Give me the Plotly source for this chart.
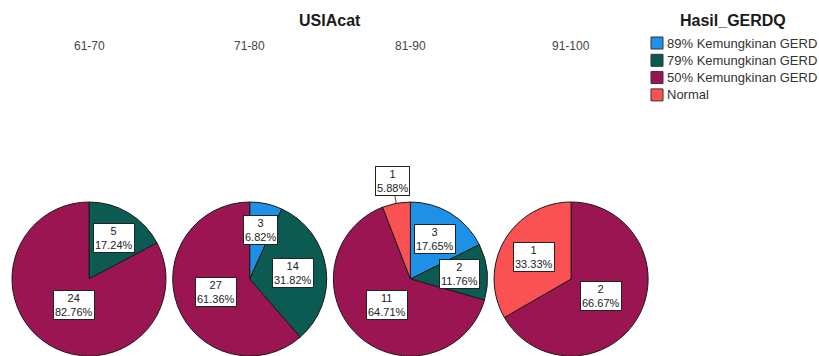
import math
import plotly.graph_objects as go

# ---------------- data ----------------
age_groups = ["61-70", "71-80", "81-90", "91-100"]
categories = ["89% Kemungkinan GERD", "79% Kemungkinan GERD", "50% Kemungkinan GERD", "Normal"]
counts_89 = [0, 3, 3, 0]
counts_79 = [5, 14, 2, 0]
counts_50 = [24, 27, 11, 2]
counts_normal = [0, 0, 1, 1]
panel_title = "USIAcat"
legend_title = "Hasil_GERDQ"

# ---------------- style / layout ----------------
W, H = 819, 356
COLORS = ["#1E90E6", "#0B5B53", "#9B1552", "#FA5252"]
FONT = "Liberation Sans, Arial, sans-serif"
PIE_D = 154          # pie diameter in px
PIE_FIRST_CX = 89    # px centre of first pie
PIE_STEP = 160.7     # px between pie centres
OUTSIDE_FRAC = 0.06  # slices smaller than this get an outside label

series = [counts_89, counts_79, counts_50, counts_normal]

fig = go.Figure()
annotations = []
shapes = []

centers = []
for i, grp in enumerate(age_groups):
    vals = [s[i] for s in series]
    idx = [k for k, v in enumerate(vals) if v > 0]
    cx = PIE_FIRST_CX + i * PIE_STEP
    x0, x1 = cx - PIE_D / 2, cx + PIE_D / 2
    cy = H - PIE_D / 2
    R = PIE_D / 2
    centers.append(cx)
    fig.add_trace(go.Pie(
        labels=[categories[k] for k in idx],
        values=[vals[k] for k in idx],
        marker=dict(colors=[COLORS[k] for k in idx], line=dict(color="#1a1a1a", width=1)),
        domain=dict(x=[x0 / W, x1 / W], y=[0, PIE_D / H]),
        sort=False, direction="clockwise", rotation=0,
        textinfo="none", showlegend=False,
        hovertemplate="%{label}<br>%{value} (%{percent})<extra>" + grp + "</extra>",
    ))

    total = sum(vals)
    cum = 0.0
    for k in idx:
        frac = vals[k] / total
        theta = 2 * math.pi * (cum + frac / 2)
        cum += frac
        txt = f"{vals[k]}<br>{frac * 100:.2f}%"
        box = dict(
            text=txt, xref="paper", yref="paper", align="center",
            xanchor="center", yanchor="middle",
            bgcolor="white", bordercolor="#222", borderwidth=1, borderpad=1,
            font=dict(family=FONT, size=11, color="#222"),
        )
        if frac < OUTSIDE_FRAC:
            ex = cx + R * math.sin(theta)
            ey = cy - R * math.cos(theta)
            d = 0.3 * R
            box.update(x=ex / W, y=1 - ey / H, showarrow=True, arrowhead=0,
                       arrowwidth=1, arrowcolor="#444", standoff=0,
                       ax=d * math.sin(theta), ay=-d * math.cos(theta))
        else:
            d = R * (0.68 - 0.35 * frac)
            px = cx + d * math.sin(theta)
            py = cy - d * math.cos(theta)
            box.update(x=px / W, y=1 - py / H, showarrow=False)
        annotations.append(box)

    # column header
    annotations.append(dict(
        text=grp, x=cx / W, y=1 - 46 / H, xref="paper", yref="paper",
        showarrow=False, font=dict(family=FONT, size=12, color="#444"),
        xanchor="center", yanchor="middle",
    ))

# panel title
annotations.append(dict(
    text=f"<b>{panel_title}</b>", x=(sum(centers) / len(centers)) / W, y=1 - 20 / H,
    xref="paper", yref="paper", showarrow=False,
    font=dict(family=FONT, size=16, color="#1a1a1a"), xanchor="center", yanchor="middle",
))

# custom legend
LEG_X = 651
LEG_Y0 = 43
LEG_DY = 17.3
BOX = 12
annotations.append(dict(
    text=f"<b>{legend_title}</b>", x=733 / W, y=1 - 20 / H, xref="paper", yref="paper",
    showarrow=False, font=dict(family=FONT, size=16, color="#1a1a1a"),
    xanchor="center", yanchor="middle",
))
for k, cat in enumerate(categories):
    yc = LEG_Y0 + k * LEG_DY
    shapes.append(dict(
        type="rect", xref="paper", yref="paper",
        x0=LEG_X / W, x1=(LEG_X + BOX) / W,
        y0=1 - (yc + BOX / 2) / H, y1=1 - (yc - BOX / 2) / H,
        fillcolor=COLORS[k], line=dict(color="#333", width=1),
    ))
    annotations.append(dict(
        text=cat, x=(LEG_X + BOX + 2) / W, y=1 - yc / H, xref="paper", yref="paper",
        showarrow=False, font=dict(family=FONT, size=13, color="#333"),
        xanchor="left", yanchor="middle",
    ))

fig.update_layout(
    width=W, height=H,
    margin=dict(l=0, r=0, t=0, b=0),
    paper_bgcolor="white", plot_bgcolor="white",
    annotations=annotations, shapes=shapes,
    showlegend=False,
)

fig.write_html("out.html")
